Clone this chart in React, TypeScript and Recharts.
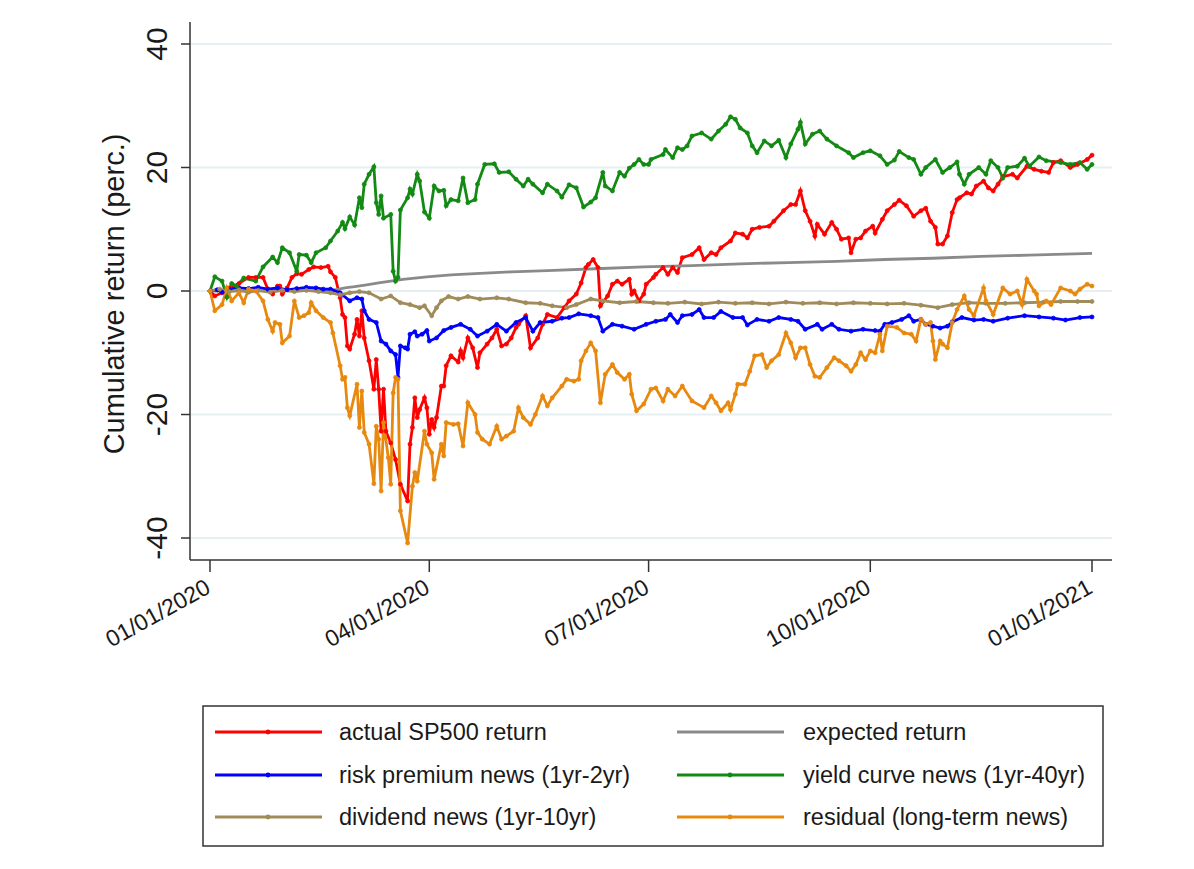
import { Line, LineChart, ReferenceLine, XAxis, YAxis } from "recharts";

// x positions are calendar days counted from 01/01/2020
const tickDays = [0, 91, 182, 274, 366];
const tickLabels = ["01/01/2020", "04/01/2020", "07/01/2020", "10/01/2020", "01/01/2021"];
const yTicks = [-40, -20, 0, 20, 40];

const actualDays = [
  0, 2, 5, 8, 12, 16, 19, 22, 24, 26, 28, 29, 30, 32, 34, 36, 38, 41, 43, 46, 49, 50, 52, 54, 55, 56, 57, 58, 60, 61,
  62, 63, 64, 66, 68, 69, 70, 71, 72, 73, 75, 77, 79, 82, 83, 84, 85, 86, 87, 89, 90, 91, 92, 93, 94, 96, 97, 98, 100,
  103, 104, 105, 107, 109, 111, 112, 115, 117, 119, 121, 123, 125, 127, 128, 131, 133, 136, 138, 140, 144, 147, 149,
  152, 154, 156, 157, 159, 161, 162, 165, 167, 169, 171, 174, 175, 176, 178, 180, 181, 184, 185, 188, 190, 192, 194,
  196, 200, 203, 205, 208, 210, 212, 216, 218, 221, 223, 225, 228, 232, 234, 238, 241, 243, 245, 247, 249, 251, 252,
  255, 258, 260, 262, 265, 266, 268, 270, 272, 275, 276, 279, 281, 284, 286, 289, 292, 295, 297, 299, 301, 302, 304,
  306, 308, 310, 311, 314, 316, 318, 321, 323, 325, 327, 329, 333, 335, 339, 342, 345, 348, 350, 353, 357, 360, 364,
  366,
];
const actualValues = [
  0, -0.8, -0.3, 0.5, 1.2, 2.2, 2.2, 2.2, 0.3, -0.5, 0.8, 0.8, -0.5, 0.5, 2.2, 2.8, 2.7, 3.5, 3.9, 3.8, 4.0, 3.1, 2.2,
  -1.1, -3.8, -4.3, -8.9, -9.4, -7.0, -4.6, -7.3, -3.2, -7.6, -11.3, -15.9, -11.1, -15.9, -22.7, -15.9, -22.7, -24.6,
  -27.3, -31.3, -34.0, -24.8, -22.1, -17.3, -20.5, -19.2, -17.3, -18.9, -23.2, -20.8, -22.1, -20.5, -15.4, -15.4,
  -12.1, -10.5, -11.5, -9.7, -10.8, -7.6, -9.2, -12.4, -10.0, -8.6, -7.6, -6.2, -8.9, -8.6, -7.6, -5.9, -5.4, -4.0,
  -9.2, -7.6, -5.4, -3.8, -4.3, -2.7, -1.6, -0.5, 1.3, 3.8, 4.3, 5.1, 3.8, -2.4, -0.8, 1.1, 1.6, 1.1, 1.9, -0.5, 0,
  -1.6, -0.5, 1.1, 2.2, 2.7, 3.8, 2.7, 3.8, 3.0, 5.4, 5.9, 7.0, 5.1, 6.2, 5.9, 7.0, 8.1, 9.4, 9.2, 8.6, 10.0, 10.3,
  10.5, 11.3, 13.0, 14.0, 14.0, 16.2, 13.0, 11.3, 8.9, 10.8, 9.2, 11.1, 10.0, 8.4, 8.6, 6.2, 8.4, 8.6, 9.7, 10.5, 9.4,
  11.6, 13.0, 14.0, 14.7, 13.8, 12.1, 13.0, 13.4, 11.3, 10.3, 7.6, 7.6, 8.9, 12.7, 14.8, 15.1, 15.9, 15.7, 17.0, 17.8,
  16.7, 16.2, 17.3, 18.5, 18.9, 18.3, 20.2, 19.7, 19.4, 19.2, 20.8, 21.1, 20.0, 20.5, 21.3, 22.0,
];

const expectedDays = [0, 15, 30, 45, 52, 56, 60, 65, 70, 75, 80, 85, 90, 100, 110, 125, 140, 160, 180, 200, 220, 240, 260, 280, 300, 320, 340, 366];
const expectedValues = [0, 0, 0.05, 0.1, 0.2, 0.5, 0.7, 1.0, 1.3, 1.6, 1.9, 2.1, 2.3, 2.6, 2.8, 3.1, 3.3, 3.6, 3.9, 4.1, 4.4, 4.6, 4.8, 5.1, 5.3, 5.6, 5.8, 6.1];

const riskDays = [
  0, 3, 5, 8, 12, 16, 20, 24, 28, 32, 36, 40, 44, 47, 50, 54, 58, 61, 63, 64, 66, 69, 71, 73, 75, 77, 78, 79, 81, 82,
  83, 85, 86, 88, 90, 91, 94, 97, 100, 104, 108, 111, 115, 119, 123, 127, 131, 134, 137, 142, 146, 149, 153, 158, 161,
  163, 167, 171, 176, 181, 185, 189, 191, 194, 196, 200, 203, 205, 209, 212, 217, 221, 223, 227, 232, 236, 241, 244,
  247, 252, 254, 258, 261, 266, 271, 276, 278, 280, 283, 287, 290, 292, 295, 297, 300, 303, 306, 308, 312, 317, 321,
  325, 331, 338, 344, 350, 355, 361, 366,
];
const riskValues = [
  0, 0.2, -0.2, 0.3, 0.5, 0.4, 0.6, 0.3, 0.5, 0.2, 0.4, 0.6, 0.5, 0.3, 0.3, -0.3, -1.6, -1.1, -1.3, -3.2, -4.6, -5.1,
  -8.1, -8.6, -9.7, -10.3, -14.0, -8.9, -9.2, -9.4, -7.0, -6.6, -7.3, -7.0, -6.4, -8.1, -7.6, -6.4, -5.9, -5.4, -6.2,
  -7.3, -6.5, -5.4, -6.5, -5.1, -4.3, -6.5, -5.1, -4.9, -4.4, -4.3, -3.7, -4.0, -4.3, -6.5, -5.4, -5.7, -6.2, -5.4,
  -4.9, -4.6, -3.8, -5.1, -4.0, -3.8, -3.0, -4.3, -4.3, -3.3, -4.3, -4.3, -5.5, -4.6, -4.9, -4.3, -4.6, -4.9, -6.2,
  -5.4, -6.2, -5.4, -6.2, -6.5, -6.2, -6.4, -6.5, -5.4, -5.1, -4.6, -4.0, -4.9, -4.6, -5.4, -5.7, -6.0, -5.7, -5.0,
  -4.3, -4.7, -4.6, -4.9, -4.4, -4.0, -4.2, -4.4, -4.7, -4.3, -4.2,
];

const yieldDays = [
  0, 2, 5, 7, 9, 11, 14, 19, 22, 26, 28, 30, 33, 36, 37, 40, 42, 44, 48, 50, 53, 55, 56, 58, 60, 62, 63, 64, 66, 68,
  69, 70, 71, 72, 75, 76, 77, 78, 79, 82, 83, 84, 86, 87, 89, 91, 93, 95, 97, 98, 100, 103, 105, 107, 110, 111, 114,
  118, 120, 124, 127, 130, 132, 134, 138, 140, 144, 146, 149, 152, 155, 158, 160, 163, 164, 167, 170, 172, 174, 176,
  178, 180, 182, 183, 188, 189, 192, 194, 196, 198, 200, 204, 208, 211, 214, 216, 218, 220, 223, 225, 227, 230, 233,
  236, 239, 241, 244, 245, 247, 250, 253, 256, 260, 265, 267, 271, 274, 278, 281, 284, 286, 290, 292, 295, 297, 301,
  304, 307, 310, 311, 313, 315, 319, 322, 324, 327, 329, 331, 335, 338, 340, 344, 347, 353, 357, 361, 364, 366,
];
const yieldValues = [
  0, 2.3, 1.6, -1.0, 1.2, 0.8, 2.1, 1.6, 3.9, 5.5, 4.6, 7.0, 6.2, 3.2, 5.9, 5.8, 4.6, 6.2, 7.0, 8.1, 9.7, 11.1, 10.1,
  12.0, 10.7, 15.1, 13.5, 17.3, 18.9, 20.1, 14.3, 12.4, 15.4, 11.8, 12.4, 3.2, 1.6, 2.2, 13.1, 15.1, 16.5, 15.7, 18.9,
  17.8, 12.8, 11.8, 17.0, 16.2, 16.3, 13.8, 14.8, 14.6, 18.3, 14.3, 14.8, 17.3, 20.5, 20.6, 19.2, 19.3, 18.1, 17.0,
  18.1, 17.3, 15.9, 17.3, 16.2, 15.2, 17.2, 16.7, 13.6, 14.4, 15.1, 19.2, 17.0, 16.2, 19.2, 18.6, 19.9, 20.5, 21.3,
  20.5, 20.5, 21.3, 22.1, 22.9, 21.6, 23.2, 22.9, 23.5, 25.1, 25.6, 24.6, 25.9, 27.0, 28.2, 27.8, 26.4, 25.6, 23.5,
  22.4, 24.3, 23.5, 24.4, 21.6, 23.8, 26.2, 27.3, 23.8, 25.4, 25.9, 24.6, 23.5, 22.4, 21.6, 22.4, 22.7, 21.9, 20.5,
  21.2, 22.6, 21.6, 21.3, 18.9, 20.0, 21.3, 19.2, 20.0, 20.9, 18.9, 17.3, 18.9, 20.0, 18.9, 21.1, 20.0, 18.3, 20.0,
  20.2, 21.5, 20.2, 21.7, 21.1, 20.8, 20.5, 20.8, 19.7, 20.5,
];

const dividendDays = [
  0, 4, 8, 12, 16, 20, 25, 30, 35, 40, 45, 50, 54, 58, 62, 66, 71, 75, 79, 83, 87, 89, 92, 94, 96, 99, 103, 107, 112,
  119, 124, 131, 137, 142, 148, 152, 158, 163, 170, 177, 184, 190, 197, 204, 211, 218, 225, 232, 239, 246, 253, 260,
  267, 274, 281, 288, 295, 302, 308, 315, 322, 330, 338, 346, 353, 360, 366,
];
const dividendValues = [
  0, 0.3, -0.1, 0.2, -0.2, 0.1, -0.2, 0.1, -0.1, 0.1, -0.1, -0.3, -0.6, -0.3, -0.1, -0.3, -1.3, -0.8, -1.9, -2.2, -2.7,
  -2.4, -4.0, -2.7, -1.6, -0.9, -1.3, -0.9, -1.3, -1.1, -1.3, -1.9, -2.0, -2.4, -2.7, -2.2, -1.3, -1.6, -1.9, -1.7,
  -1.9, -2.0, -1.8, -2.1, -1.8, -2.0, -1.9, -2.1, -1.8, -2.0, -1.9, -2.1, -1.9, -2.0, -2.1, -2.0, -2.3, -2.7, -2.2,
  -1.9, -2.0, -2.0, -1.9, -1.8, -1.7, -1.7, -1.7,
];

const residualDays = [
  0, 2, 5, 7, 9, 12, 14, 16, 19, 22, 24, 26, 27, 29, 30, 33, 35, 37, 39, 41, 42, 44, 47, 50, 51, 54, 55, 56, 57, 58,
  61, 62, 63, 64, 66, 68, 69, 70, 71, 72, 74, 75, 76, 77, 78, 79, 82, 84, 85, 86, 89, 90, 92, 93, 96, 97, 98, 101, 103,
  105, 107, 110, 111, 113, 116, 119, 121, 123, 126, 128, 130, 133, 135, 138, 140, 142, 146, 148, 151, 153, 154, 156,
  158, 160, 162, 164, 167, 169, 172, 174, 175, 177, 180, 183, 185, 188, 190, 193, 196, 200, 205, 208, 210, 212, 215,
  216, 218, 219, 222, 224, 226, 229, 231, 233, 236, 239, 241, 243, 245, 247, 249, 251, 253, 256, 259, 261, 264, 266,
  268, 270, 272, 274, 276, 278, 279, 281, 285, 288, 291, 293, 295, 297, 299, 300, 301, 303, 304, 306, 308, 310, 313,
  315, 317, 321, 322, 325, 329, 332, 335, 337, 339, 342, 343, 344, 347, 349, 353, 357, 359, 361, 364, 366,
];
const residualValues = [
  0, -3.2, -2.2, 0.5, -1.6, -0.3, -1.9, 0.3, 0, -1.6, -4.6, -6.5, -5.1, -5.4, -8.4, -7.3, -1.6, -4.3, -4.0, -3.5, -1.9,
  -3.2, -4.3, -5.1, -6.8, -12.1, -14.3, -14.0, -18.9, -20.2, -15.1, -22.1, -16.2, -22.9, -24.8, -31.2, -21.9, -24.0,
  -32.4, -21.3, -27.0, -31.3, -16.5, -14.0, -14.3, -35.6, -40.8, -31.6, -29.4, -30.8, -22.7, -24.8, -26.2, -30.5,
  -24.8, -26.7, -21.3, -21.6, -21.5, -25.1, -18.1, -20.0, -22.9, -24.0, -24.8, -21.9, -24.0, -23.5, -22.7, -18.9,
  -20.5, -21.6, -20.0, -17.0, -18.6, -17.3, -15.4, -14.3, -14.6, -14.3, -11.3, -9.7, -8.4, -9.7, -18.1, -13.5, -11.9,
  -13.2, -14.3, -13.5, -16.7, -19.4, -18.3, -15.9, -15.7, -17.8, -15.9, -17.0, -15.4, -17.8, -18.9, -17.0, -18.1,
  -19.4, -18.1, -19.2, -16.7, -15.1, -15.1, -13.0, -10.5, -10.3, -12.4, -11.3, -10.3, -6.8, -8.4, -10.8, -9.2, -9.2,
  -11.9, -13.8, -14.0, -12.4, -10.8, -11.3, -12.1, -13.0, -11.9, -10.0, -11.1, -9.7, -10.0, -7.0, -9.7, -5.7, -5.9,
  -6.8, -7.0, -8.1, -4.6, -5.4, -5.1, -8.1, -11.1, -8.1, -8.6, -9.2, -5.1, -3.0, -0.8, -3.0, -4.0, 0.5, -1.6, -3.8,
  0.5, -0.5, 0, -2.2, 1.9, 0, -0.5, -2.4, -1.6, -2.2, 0.5, 0, -0.5, 0.3, 1.1, 0.8,
];

const toPoints = (days: number[], values: number[]) => days.map((day, i) => ({ day, value: values[i] }));

const series = [
  { name: "actual SP500 return", color: "#ff0000", data: toPoints(actualDays, actualValues), dots: true },
  { name: "expected return", color: "#8a8a8a", data: toPoints(expectedDays, expectedValues), dots: false },
  { name: "risk premium news (1yr-2yr)", color: "#0000ff", data: toPoints(riskDays, riskValues), dots: true },
  { name: "yield curve news (1yr-40yr)", color: "#138a13", data: toPoints(yieldDays, yieldValues), dots: true },
  { name: "dividend news (1yr-10yr)", color: "#a08c5a", data: toPoints(dividendDays, dividendValues), dots: true },
  { name: "residual (long-term news)", color: "#e8890f", data: toPoints(residualDays, residualValues), dots: true },
];

const FONT = "'Liberation Sans', Arial, sans-serif";
const INK = "#1a1a1a";

const XTick = ({ x, y, payload }: any) => {
  const label = tickLabels[tickDays.indexOf(payload.value)] ?? "";
  const ax = x + 2;
  const ay = y + 18;
  return (
    <text x={ax} y={ay} transform={`rotate(-29 ${ax} ${ay})`} textAnchor="end" fontSize={23} fontFamily={FONT} fill={INK}>
      {label}
    </text>
  );
};

const YTick = ({ x, y, payload }: any) => {
  const ax = x - 12;
  return (
    <text x={ax} y={y} transform={`rotate(-90 ${ax} ${y})`} textAnchor="middle" fontSize={30} fontFamily={FONT} fill={INK}>
      {payload.value}
    </text>
  );
};

const YTitle = () => (
  <text x={124} y={294} transform="rotate(-90 124 294)" textAnchor="middle" fontSize={29} fontFamily={FONT} fill={INK}>
    Cumulative return (perc.)
  </text>
);

const LegendBox = () => {
  const rows = [27, 70, 112];
  const cols = [
    { lineX: 13, textX: 137 },
    { lineX: 475, textX: 601 },
  ];
  return (
    <svg width={902} height={142} style={{ position: "absolute", left: 202, top: 705 }}>
      <rect x={1} y={1} width={900} height={140} fill="#fff" stroke="#333" strokeWidth={1.5} />
      {series.map((s, i) => {
        const col = cols[i % 2];
        const cy = rows[Math.floor(i / 2)];
        return (
          <g key={s.name}>
            <line x1={col.lineX} x2={col.lineX + 107} y1={cy} y2={cy} stroke={s.color} strokeWidth={2.8} />
            {s.dots && <circle cx={col.lineX + 53} cy={cy} r={2.4} fill={s.color} />}
            <text x={col.textX} y={cy} dominantBaseline="central" fontSize={23.5} fontFamily={FONT} fill={INK}>
              {s.name}
            </text>
          </g>
        );
      })}
    </svg>
  );
};

export default function App() {
  return (
    <div style={{ position: "absolute", left: 0, top: 0, width: 1194, height: 869, background: "#fff" }}>
      <LineChart width={1194} height={869} margin={{ top: 22, right: 82, bottom: 249, left: 0 }}>
        <XAxis
          type="number"
          dataKey="day"
          domain={[-8.3, 374.3]}
          ticks={tickDays}
          interval={0}
          allowDataOverflow
          height={60}
          tickSize={12}
          tickMargin={2}
          stroke="#333"
          strokeWidth={1.5}
          tick={<XTick />}
        />
        <YAxis
          type="number"
          domain={[-43.56, 43.56]}
          ticks={yTicks}
          interval={0}
          allowDataOverflow
          width={190}
          tickSize={9}
          tickMargin={2}
          stroke="#333"
          strokeWidth={1.5}
          tick={<YTick />}
          label={{ content: <YTitle /> }}
        />
        {/* light grid rules at the labelled y values */}
        {yTicks.map((t) => (
          <ReferenceLine key={t} y={t} stroke="#e6eff1" strokeWidth={2} />
        ))}
        {series.map((s) => (
          <Line
            key={s.name}
            name={s.name}
            data={s.data}
            dataKey="value"
            type="linear"
            stroke={s.color}
            strokeWidth={2.8}
            dot={s.dots ? { r: 2, fill: s.color, stroke: s.color, strokeWidth: 0.8 } : false}
            activeDot={false}
            isAnimationActive={false}
          />
        ))}
      </LineChart>
      <LegendBox />
    </div>
  );
}
